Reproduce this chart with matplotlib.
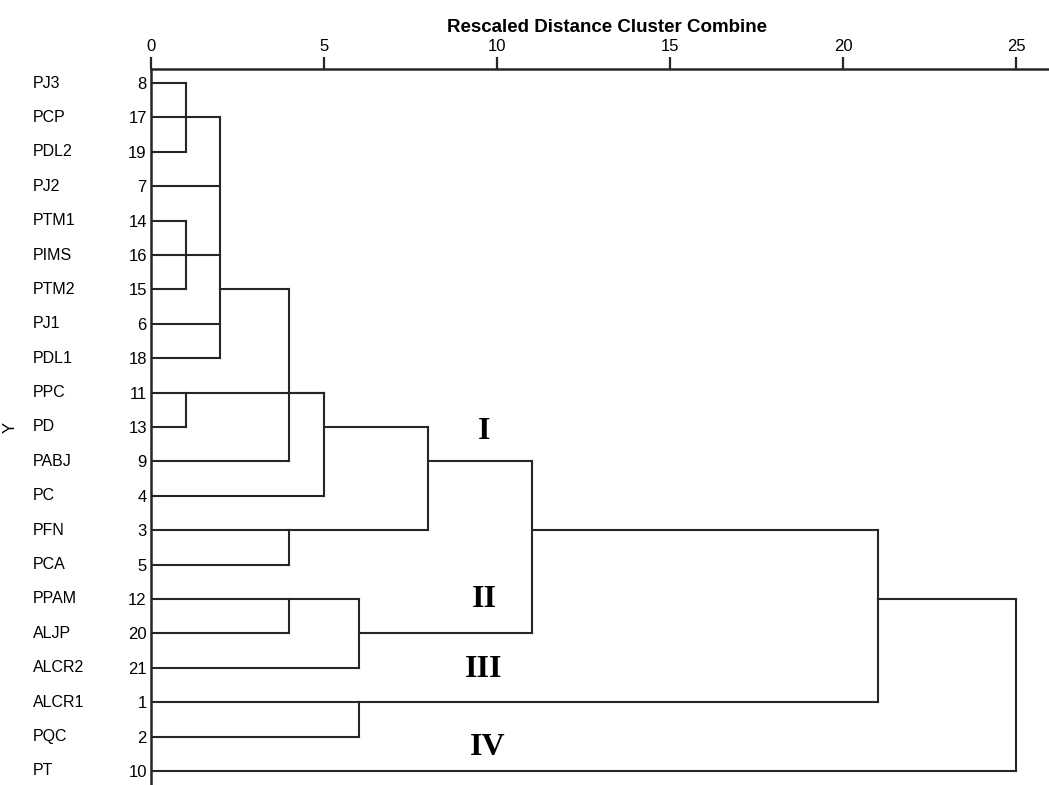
import matplotlib.pyplot as plt
from matplotlib.transforms import blended_transform_factory

plt.rcParams['font.family'] = ['Liberation Sans', 'DejaVu Sans']

# leaves, top to bottom, as in the SPSS output
leaf_names = ['PJ3', 'PCP', 'PDL2', 'PJ2', 'PTM1', 'PIMS', 'PTM2', 'PJ1', 'PDL1', 'PPC', 'PD',
              'PABJ', 'PC', 'PFN', 'PCA', 'PPAM', 'ALJP', 'ALCR2', 'ALCR1', 'PQC', 'PT']
case_ids = [8, 17, 19, 7, 14, 16, 15, 6, 18, 11, 13, 9, 4, 3, 5, 12, 20, 21, 1, 2, 10]

# merges: ids 21.. ; children refer to leaf rows (0-20) or earlier merges
merge_children = [[0, 1, 2], [4, 5, 6], [21, 3, 22, 7, 8], [9, 10], [23, 11], [24, 25, 12],
                  [13, 14], [26, 27], [15, 16], [29, 17], [28, 30], [18, 19], [31, 32], [33, 20]]
merge_height = [1, 1, 2, 1, 4, 5, 4, 8, 4, 6, 11, 6, 21, 25]
merge_row = [1, 5, 6, 9, 9, 10, 13, 11, 15, 16, 13, 18, 15, 17]

cluster_labels = ['I', 'II', 'III', 'IV']
cluster_x = [9.62, 9.62, 9.62, 9.74]
cluster_y = [10.12, 15.03, 17.06, 19.33]

n_leaves = len(leaf_names)
line_col = '#262626'

fig = plt.figure(figsize=(10.49, 7.85), dpi=100)
ax = fig.add_axes([151 / 1049, 0.0, 1 - 151 / 1049, 1 - 69 / 785])

height = {i: 0 for i in range(n_leaves)}
row = {i: i for i in range(n_leaves)}
for k, (kids, h, r) in enumerate(zip(merge_children, merge_height, merge_row)):
    mid = n_leaves + k
    rows = [row[c] for c in kids]
    for c in kids:
        ax.plot([height[c], h], [row[c], row[c]], color=line_col, lw=1.5, solid_capstyle='projecting')
    ax.plot([h, h], [min(rows), max(rows)], color=line_col, lw=1.5, solid_capstyle='projecting')
    height[mid] = h
    row[mid] = r

ax.set_xlim(0, 25.95)
ax.set_ylim(20.41, -0.41)

for s in ['right', 'bottom']:
    ax.spines[s].set_visible(False)
for s in ['top', 'left']:
    ax.spines[s].set_linewidth(1.8)
    ax.spines[s].set_color(line_col)

ax.xaxis.tick_top()
ax.set_xticks([0, 5, 10, 15, 20, 25])
ax.tick_params(axis='x', length=9, width=1.6, color=line_col, pad=2, labelsize=12)
ax.set_title('Rescaled Distance Cluster Combine', fontsize=13.5, fontweight='bold',
             x=(607 - 151) / 898, pad=27)

ax.set_yticks(range(n_leaves))
ax.set_yticklabels([str(c) for c in case_ids])
ax.tick_params(axis='y', length=0, pad=3, labelsize=12)

trans = blended_transform_factory(ax.transAxes, ax.transData)
for i, name in enumerate(leaf_names):
    ax.text(-0.1314, i, name, transform=trans, ha='left', va='center', fontsize=11.5)

ax.set_ylabel('Y', fontsize=12)
ax.yaxis.set_label_coords(-0.149, 0.5)

for lab, x, y in zip(cluster_labels, cluster_x, cluster_y):
    ax.text(x, y, lab, ha='center', va='center', fontsize=23, fontweight='bold',
            family='Liberation Serif')

fig.savefig('out.png', dpi=100)
